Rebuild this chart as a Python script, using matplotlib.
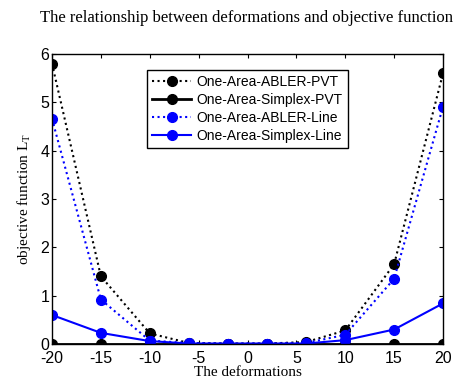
import numpy as np
import matplotlib.pyplot as plt

plt.rcParams['axes.unicode_minus'] = False

# deformation steps and objective values for each method
deform = [-20, -15, -10, -6, -2, 2, 6, 10, 15, 20]
abler_pvt = [5.8, 1.4, 0.22, 0.02, 0.01, 0.01, 0.04, 0.28, 1.65, 5.6]
simplex_pvt = [0, 0, 0, 0, 0, 0, 0, 0, 0, 0]
abler_line = [4.66, 0.92, 0.07, 0.02, 0.01, 0.01, 0.02, 0.19, 1.35, 4.91]
simplex_line = [0.6, 0.23, 0.06, 0.01, 0.01, 0.01, 0.01, 0.08, 0.3, 0.84]

serif = 'Liberation Serif'
sans = 'Liberation Sans'

fig = plt.figure(figsize=(4.59, 3.8), dpi=100)
ax = fig.add_axes([52/459, 1 - 344/380, (443-52)/459, (344-54)/380])

ms = 7
ax.plot(deform, abler_pvt, ':', color='black', marker='o', ms=ms, lw=1.5,
        label='One-Area-ABLER-PVT')
ax.plot(deform, simplex_pvt, '-', color='black', marker='o', ms=ms, lw=2,
        label='One-Area-Simplex-PVT')
ax.plot(deform, abler_line, ':', color='blue', marker='o', ms=ms, lw=1.5,
        label='One-Area-ABLER-Line')
ax.plot(deform, simplex_line, '-', color='blue', marker='o', ms=ms, lw=1.5,
        label='One-Area-Simplex-Line')

ax.set_xlim(-20, 20)
ax.set_ylim(0, 6)
ax.set_xticks(np.arange(-20, 21, 5))
ax.set_yticks(np.arange(0, 7, 1))
ax.tick_params(direction='in', top=True, right=True, length=3, labelsize=11.5, pad=2)
ax.tick_params(axis='x', pad=5)
for lab in ax.get_xticklabels() + ax.get_yticklabels():
    lab.set_fontfamily(sans)
for s in ax.spines.values():
    s.set_linewidth(1)

ax.set_xlabel('The deformations', fontfamily=serif, fontsize=11, labelpad=0)
ax.set_ylabel('objective function L$_\\mathregular{T}$', fontfamily=serif, fontsize=11, labelpad=5)
fig.text(246/459, 1 - 18/380, 'The relationship between deformations and objective function',
         ha='center', va='center', fontfamily=serif, fontsize=12)

leg = ax.legend(loc='upper center', bbox_to_anchor=(0.5, 0.97), fancybox=False,
                edgecolor='black', framealpha=1, borderpad=0.35, labelspacing=0.3,
                handlelength=2.8, handletextpad=0.4,
                prop={'family': sans, 'size': 10})
leg.get_frame().set_linewidth(1)

fig.savefig('out.png', dpi=100)
